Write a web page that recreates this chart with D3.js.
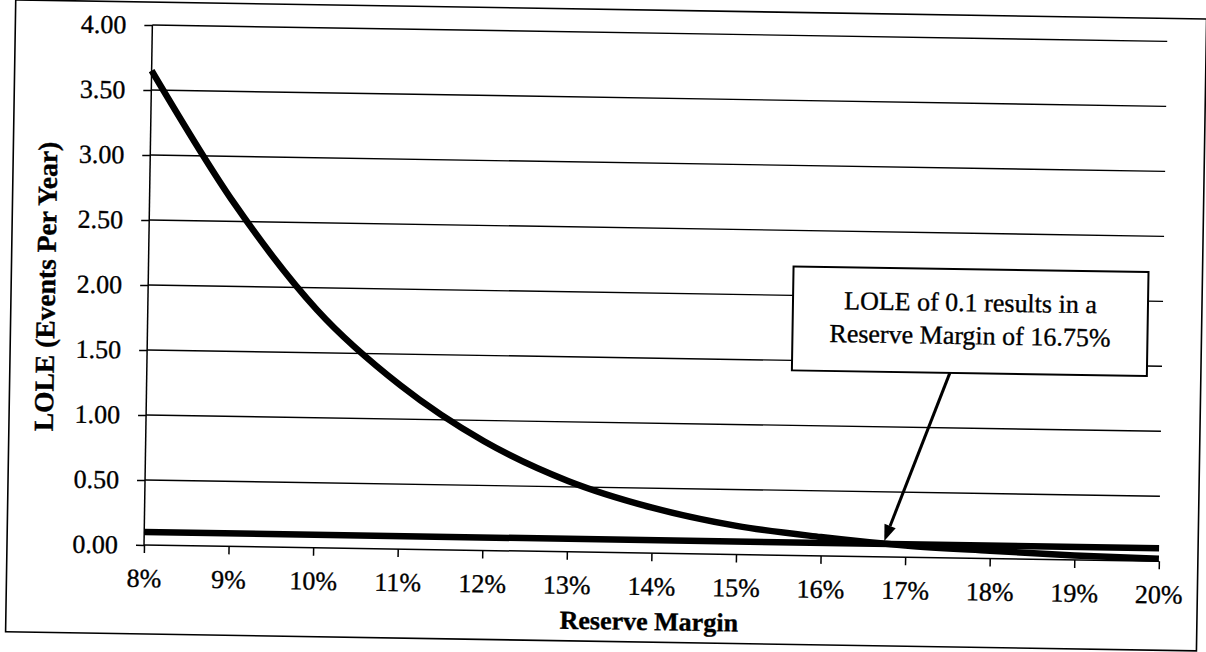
<!DOCTYPE html>
<html>
<head>
<meta charset="utf-8">
<script src="https://cdn.jsdelivr.net/npm/d3@7"></script>
<style>
  html, body { margin: 0; padding: 0; background: #fff; }
  svg { display: block; }
  text { font-family: "Liberation Serif", "Times New Roman", serif; fill: #000; stroke: #000; stroke-width: 0.35px; }
  .axis path, .axis line { stroke: #000; stroke-width: 1.5; }
  .grid line { stroke: #000; stroke-width: 1.4; }
</style>
</head>
<body>
<div id="chart"></div>
<script>
// Chart data
var reserveMargin = [8, 9, 10, 11, 12, 13, 14, 15, 16, 17, 18, 19, 20];
var loleCurve = [3.65, 2.64, 1.83, 1.26, 0.84, 0.545, 0.35, 0.22, 0.145, 0.09, 0.06, 0.035, 0.02];
var targetMargin = [8, 20];
var targetLole = [0.10, 0.10];
var yTicks = [0, 0.5, 1.0, 1.5, 2.0, 2.5, 3.0, 3.5, 4.0];
var xTicks = [8, 9, 10, 11, 12, 13, 14, 15, 16, 17, 18, 19, 20];
var crossing = {margin: 16.75, lole: 0.1};
var noteLines = ['LOLE of 0.1 results in a', 'Reserve Margin of 16.75%'];

var W = 1206, H = 652;
var plot = {left: 144, right: 1159, top: 25, bottom: 545};

var svg = d3.select('#chart').append('svg')
  .attr('width', W)
  .attr('height', H);

svg.append('rect').attr('width', W).attr('height', H).attr('fill', '#fff');

// the scan is tilted a little, so the whole chart is turned about the origin
var g = svg.append('g')
  .attr('transform', 'rotate(0.92,' + plot.left + ',' + plot.bottom + ')');

// outer chart border
g.append('rect')
  .attr('x', 7).attr('y', 2)
  .attr('width', 1191).attr('height', 632)
  .attr('fill', 'none')
  .attr('stroke', '#000')
  .attr('stroke-width', 1.6);

var x = d3.scaleLinear().domain([8, 20]).range([plot.left, plot.right]);
var y = d3.scaleLinear().domain([0, 4]).range([plot.bottom, plot.top]);

// horizontal gridlines
g.append('g').attr('class', 'grid')
  .selectAll('line')
  .data(yTicks.filter(function(d) { return d > 0; }))
  .enter().append('line')
    .attr('x1', plot.left)
    .attr('x2', plot.right)
    .attr('y1', function(d) { return y(d); })
    .attr('y2', function(d) { return y(d); });

// Y axis
var yAxis = d3.axisLeft(y)
  .tickValues(yTicks)
  .tickSize(8)
  .tickPadding(18)
  .tickFormat(d3.format('.2f'));

g.append('g')
  .attr('class', 'axis')
  .attr('transform', 'translate(' + plot.left + ',0)')
  .call(yAxis)
  .call(function(s) { s.select('.domain').attr('d', 'M0,' + plot.top + 'V' + plot.bottom); })
  .selectAll('text')
    .style('font-size', '26px');

// X axis
var xAxis = d3.axisBottom(x)
  .tickValues(xTicks)
  .tickSize(8)
  .tickFormat(function(d) { return d + '%'; });

g.append('g')
  .attr('class', 'axis')
  .attr('transform', 'translate(0,' + plot.bottom + ')')
  .call(xAxis)
  .call(function(s) { s.select('.domain').attr('d', 'M' + plot.left + ',0H' + plot.right); })
  .selectAll('text')
    .attr('y', 42)
    .attr('dy', 0)
    .style('font-size', '26px');

// LOLE curve and the 0.1 target line
var line = d3.line()
  .x(function(d) { return x(d[0]); })
  .y(function(d) { return y(d[1]); })
  .curve(d3.curveMonotoneX);

g.append('path')
  .attr('d', line(d3.zip(targetMargin, targetLole)))
  .attr('fill', 'none')
  .attr('stroke', '#000')
  .attr('stroke-width', 6.5);

g.append('path')
  .attr('d', line(d3.zip(reserveMargin, loleCurve)))
  .attr('fill', 'none')
  .attr('stroke', '#000')
  .attr('stroke-width', 6.5);

// axis titles
g.append('text')
  .attr('x', 650)
  .attr('y', 622)
  .attr('text-anchor', 'middle')
  .style('font-size', '26px')
  .style('font-weight', 'bold')
  .text('Reserve Margin');

g.append('text')
  .attr('transform', 'translate(51,288) rotate(-90)')
  .attr('text-anchor', 'middle')
  .style('font-size', '27.5px')
  .style('font-weight', 'bold')
  .text('LOLE (Events Per Year)');

// annotation box with arrow
var box = {x: 789, y: 256, w: 355, h: 104};

var tipX = x(crossing.margin), tipY = y(crossing.lole) - 3;
var startX = 947, startY = box.y + box.h;
var ang = Math.atan2(tipY - startY, tipX - startX);
var headLen = 16, headW = 6;
var baseX = tipX - headLen * Math.cos(ang), baseY = tipY - headLen * Math.sin(ang);

g.append('line')
  .attr('x1', startX).attr('y1', startY)
  .attr('x2', baseX).attr('y2', baseY)
  .attr('stroke', '#000')
  .attr('stroke-width', 3);

g.append('path')
  .attr('d', 'M' + tipX + ',' + tipY +
    'L' + (baseX + headW * Math.sin(ang)) + ',' + (baseY - headW * Math.cos(ang)) +
    'L' + (baseX - headW * Math.sin(ang)) + ',' + (baseY + headW * Math.cos(ang)) + 'Z')
  .attr('fill', '#000');

g.append('rect')
  .attr('x', box.x).attr('y', box.y)
  .attr('width', box.w).attr('height', box.h)
  .attr('fill', '#fff')
  .attr('stroke', '#000')
  .attr('stroke-width', 2);

g.append('g').selectAll('text')
  .data(noteLines)
  .enter().append('text')
    .attr('x', box.x + box.w / 2)
    .attr('y', function(d, i) { return box.y + 42 + i * 33; })
    .attr('text-anchor', 'middle')
    .style('font-size', '26px')
    .text(function(d) { return d; });
</script>
</body>
</html>
